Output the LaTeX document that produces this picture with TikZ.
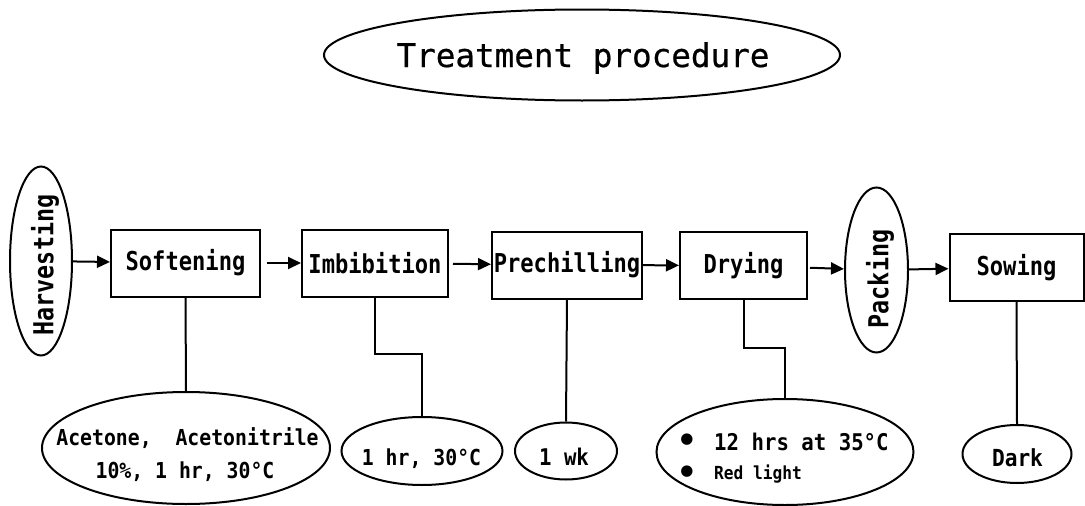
\documentclass[tikz,border=0pt]{standalone}
\usepackage{fontspec}
\setmainfont{DejaVu Sans Mono}
\newfontfamily\boxf[FakeStretch=0.85]{DejaVu Sans Mono}
\newfontfamily\lowf[FakeStretch=0.9]{DejaVu Sans Mono}
\newfontfamily\titlef[FakeBold=0.6]{DejaVu Sans Mono}
\newfontfamily\dvs{DejaVu Sans}
\usetikzlibrary{shapes.geometric,arrows.meta}
\begin{document}
\begin{tikzpicture}[x=1pt,y=-1pt,
  stepbox/.style={draw, line width=2pt, rectangle, inner sep=0pt, minimum height=67pt,
    font=\boxf\bfseries\fontsize{26}{26}\selectfont},
  oval/.style={draw, line width=2pt, ellipse, inner sep=0pt},
  lbl/.style={inner sep=0pt, font=\lowf\bfseries\fontsize{22}{22}\selectfont},
  vlbl/.style={inner sep=0pt, rotate=90, font=\boxf\bfseries\fontsize{27.5}{27.5}\selectfont},
  bul/.style={inner sep=0pt, font=\dvs\fontsize{15}{15}\selectfont},
  arr/.style={line width=2pt, -{Triangle[length=13pt,width=12pt]}},
  conn/.style={line width=2pt}]
\useasboundingbox (0,0) rectangle (1085,506);

% title
\node[oval, minimum width=516pt, minimum height=91pt] (title) at (582,55) {};
\node[inner sep=0pt, anchor=base, font=\titlef\fontsize{32.6}{33}\selectfont] (titletxt) at (583,67) {Treatment procedure};

% main row
\node[oval, minimum width=62pt, minimum height=189pt] (harv) at (41,261) {};
\node[vlbl] (harvtxt) at (45,265) {Harvesting};
\node[stepbox, minimum width=149pt] (soft) at (185.5,263) {Softening};
\node[stepbox, minimum width=146pt] (imb) at (375,263) {Imbibition};
\node[stepbox, minimum width=150pt] (pre) at (567,265) {Prechilling};
\node[stepbox, minimum width=127pt] (dry) at (743.5,265.5) {Drying};
\node[oval, minimum width=63pt, minimum height=165pt] (pack) at (876.5,270) {};
\node[vlbl] (packtxt) at (880,279) {Packing};
\node[stepbox, minimum width=134pt] (sow) at (1016.5,267.5) {Sowing};

% arrows
\draw[arr] (harv) -- (soft);
\draw[arr, shorten <=6pt] (soft) -- (imb);
\draw[arr, shorten <=4pt] (imb) -- (pre);
\draw[arr] (pre) -- (dry);
\draw[arr, shorten <=2pt] (dry) -- (pack);
\draw[arr] (pack) -- (sow);

% bottom ellipses
\node[oval, minimum width=288pt, minimum height=112pt] (e1) at (186,448) {};
\node[lbl, anchor=base] (e1a) at (187.5,445) {Acetone,\ \ Acetonitrile};
\node[lbl, anchor=base] (e1b) at (185,478) {10\%, 1 hr, 30°C};

\node[oval, minimum width=161pt, minimum height=68pt] (e2) at (422,451) {};
\node[lbl, anchor=base] (e2a) at (421.5,465) {1 hr, 30°C};

\node[oval, minimum width=102pt, minimum height=57pt] (e3) at (566,451) {};
\node[lbl, anchor=base, font=\lowf\bfseries\fontsize{23}{23}\selectfont] (e3a) at (564,465.5) {1 wk};

\node[oval, minimum width=257pt, minimum height=106pt] (e4) at (785,452) {};
\node[bul] (b1) at (687,440) {●};
\node[bul] (b2) at (687,472) {●};
\node[lbl, anchor=base west, font=\lowf\bfseries\fontsize{23}{23}\selectfont] (e4a) at (714,450.5) {12 hrs at 35°C};
\node[lbl, anchor=base west, font=\lowf\bfseries\fontsize{18}{18}\selectfont] (e4b) at (714,479.5) {Red light};

\node[oval, minimum width=109pt, minimum height=58pt] (e5) at (1017,454) {};
\node[lbl, anchor=base, font=\lowf\bfseries\fontsize{23.5}{23.5}\selectfont] (e5a) at (1017.5,466.5) {Dark};

% connectors
\draw[conn] (soft.south) -- (e1.north);
\coordinate (k2) at (398,354);
\draw[conn] (imb.south) |- (k2) -| (e2.north);
\draw[conn] (pre.south) -- (e3.north);
\coordinate (k4) at (760,348);
\draw[conn] (dry.south) |- (k4) -| (e4.north);
\draw[conn] (sow.south) -- (e5.north);
\end{tikzpicture}
\end{document}
